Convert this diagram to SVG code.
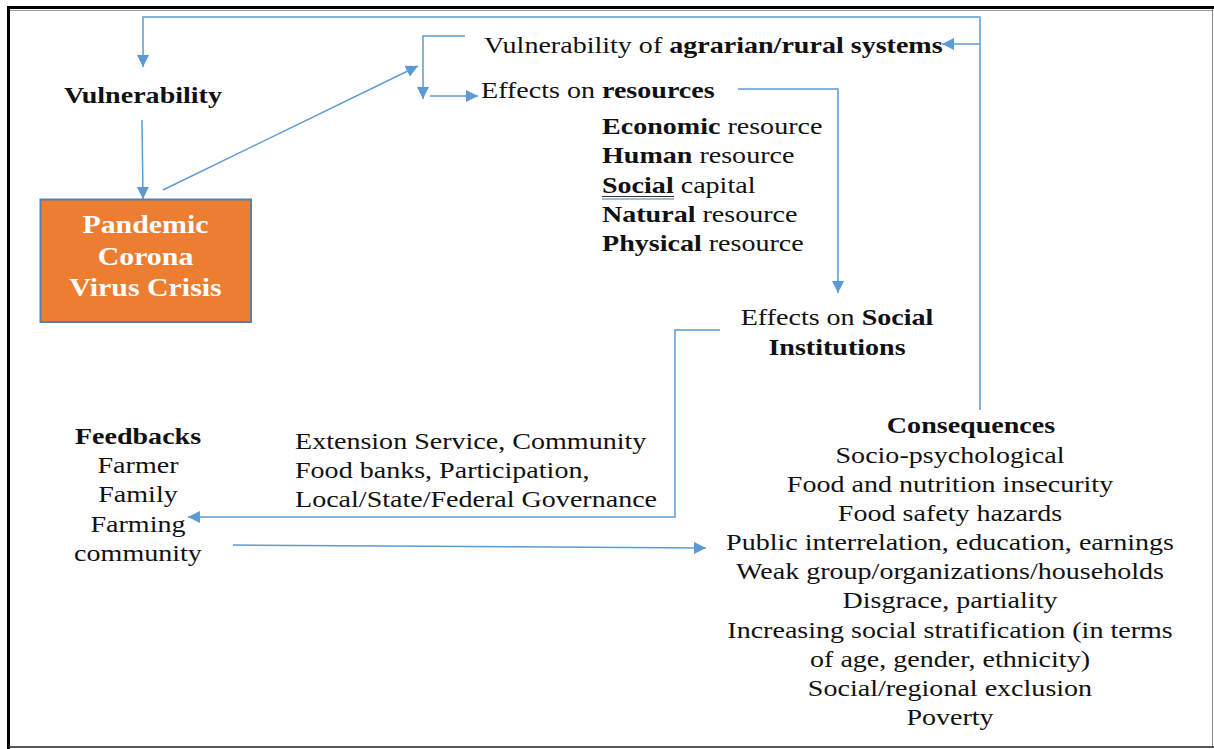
<svg xmlns="http://www.w3.org/2000/svg" width="1214" height="749" viewBox="0 0 1214 749">
<style>
.t{font-family:"Liberation Serif","Times New Roman",serif;font-size:23px;fill:#111}
.b{font-weight:bold}
.c{text-anchor:middle}
.bx{font-family:"Liberation Serif","Times New Roman",serif;font-size:26px;font-weight:bold;fill:#fff;text-anchor:middle}
.ln{fill:none;stroke:#5B9BD5;stroke-width:1.5}
</style>
<defs>
<marker id="ah" markerUnits="userSpaceOnUse" markerWidth="13" markerHeight="12" refX="12" refY="6" orient="auto">
<path d="M0,0 L12,6 L0,12 z" fill="#5B9BD5"/>
</marker>
</defs>
<rect x="0" y="0" width="1214" height="749" fill="#fff"/>
<g id="frame">
<line x1="8.5" y1="7" x2="8.5" y2="749" stroke="#000" stroke-width="3"/>
<line x1="7" y1="7.5" x2="1214" y2="7.5" stroke="#000" stroke-width="3"/>
<line x1="10" y1="10.5" x2="1212" y2="10.5" stroke="#999" stroke-width="1"/>
<line x1="1212.5" y1="9" x2="1212.5" y2="747" stroke="#888" stroke-width="1"/>
<line x1="8" y1="747" x2="1214" y2="747" stroke="#222" stroke-width="1.5"/>
</g>
<g id="connectors">
<path class="ln" d="M980,410 V17 H143 V67" marker-end="url(#ah)"/>
<path class="ln" d="M980,44 H942" marker-end="url(#ah)"/>
<path class="ln" d="M142,120 L143,199" marker-end="url(#ah)"/>
<path class="ln" d="M163,190 L418,66" marker-end="url(#ah)"/>
<path class="ln" d="M465,36 H423 V99" marker-end="url(#ah)"/>
<path class="ln" d="M430,96 H478" marker-end="url(#ah)"/>
<path class="ln" d="M738,89 H838 V293" marker-end="url(#ah)"/>
<path class="ln" d="M720,330 H675 V517 H188" marker-end="url(#ah)"/>
<path class="ln" d="M233,545 L706,548" marker-end="url(#ah)"/>
</g>
<g id="vulnerability">
<g transform="translate(143,103) scale(1.22,1)"><text class="t b c" x="0" y="0">Vulnerability</text></g>
</g>
<g id="pandemic">
<rect x="40.5" y="199.5" width="210.5" height="122.5" fill="#ED7D31" stroke="#5A7FA8" stroke-width="2"/>
<g transform="translate(145.5,0) scale(1.15,1)">
<text class="bx" x="0" y="233">Pandemic</text>
<text class="bx" x="0" y="265">Corona</text>
<text class="bx" x="0" y="296">Virus Crisis</text>
</g>
</g>
<g id="agrarian">
<g transform="translate(484,53) scale(1.22,1)"><text class="t" x="0" y="0">Vulnerability of <tspan class="b">agrarian/rural systems</tspan></text></g>
</g>
<g id="resources">
<g transform="translate(481,98) scale(1.22,1)"><text class="t" x="0" y="0">Effects on <tspan class="b">resources</tspan></text></g>
</g>
<g id="resource-list">
<g transform="translate(602,0) scale(1.22,1)">
<text class="t" x="0" y="134"><tspan class="b">Economic</tspan> resource</text>
<text class="t" x="0" y="163"><tspan class="b">Human</tspan> resource</text>
<text class="t" x="0" y="193"><tspan class="b">Social</tspan> capital</text>
<text class="t" x="0" y="222"><tspan class="b">Natural</tspan> resource</text>
<text class="t" x="0" y="251"><tspan class="b">Physical</tspan> resource</text>
</g>
<line x1="602" y1="196.5" x2="674" y2="196.5" stroke="#333" stroke-width="1"/>
<line x1="602" y1="199" x2="674" y2="199" stroke="#4472C4" stroke-width="1"/>
</g>
<g id="social-institutions">
<g transform="translate(837,0) scale(1.22,1)">
<text class="t c" x="0" y="325">Effects on <tspan class="b">Social</tspan></text>
<text class="t b c" x="0" y="355">Institutions</text>
</g>
</g>
<g id="institutions-list">
<g transform="translate(295,0) scale(1.22,1)">
<text class="t" x="0" y="449">Extension Service, Community</text>
<text class="t" x="0" y="478">Food banks, Participation,</text>
<text class="t" x="0" y="507">Local/State/Federal Governance</text>
</g>
</g>
<g id="feedbacks">
<g transform="translate(138,0) scale(1.22,1)">
<text class="t b c" x="0" y="444">Feedbacks</text>
<text class="t c" x="0" y="473">Farmer</text>
<text class="t c" x="0" y="502">Family</text>
<text class="t c" x="0" y="532">Farming</text>
<text class="t c" x="0" y="561">community</text>
</g>
</g>
<g id="consequences">
<g transform="translate(971,433) scale(1.22,1)"><text class="t b c" x="0" y="0">Consequences</text></g>
<g transform="translate(950,0) scale(1.22,1)">
<text class="t c" x="0" y="463">Socio-psychological</text>
<text class="t c" x="0" y="492">Food and nutrition insecurity</text>
<text class="t c" x="0" y="521">Food safety hazards</text>
<text class="t c" x="0" y="550">Public interrelation, education, earnings</text>
<text class="t c" x="0" y="579">Weak group/organizations/households</text>
<text class="t c" x="0" y="608">Disgrace, partiality</text>
<text class="t c" x="0" y="638">Increasing social stratification (in terms</text>
<text class="t c" x="0" y="667">of age, gender, ethnicity)</text>
<text class="t c" x="0" y="696">Social/regional exclusion</text>
<text class="t c" x="0" y="725">Poverty</text>
</g>
</g>
</svg>
